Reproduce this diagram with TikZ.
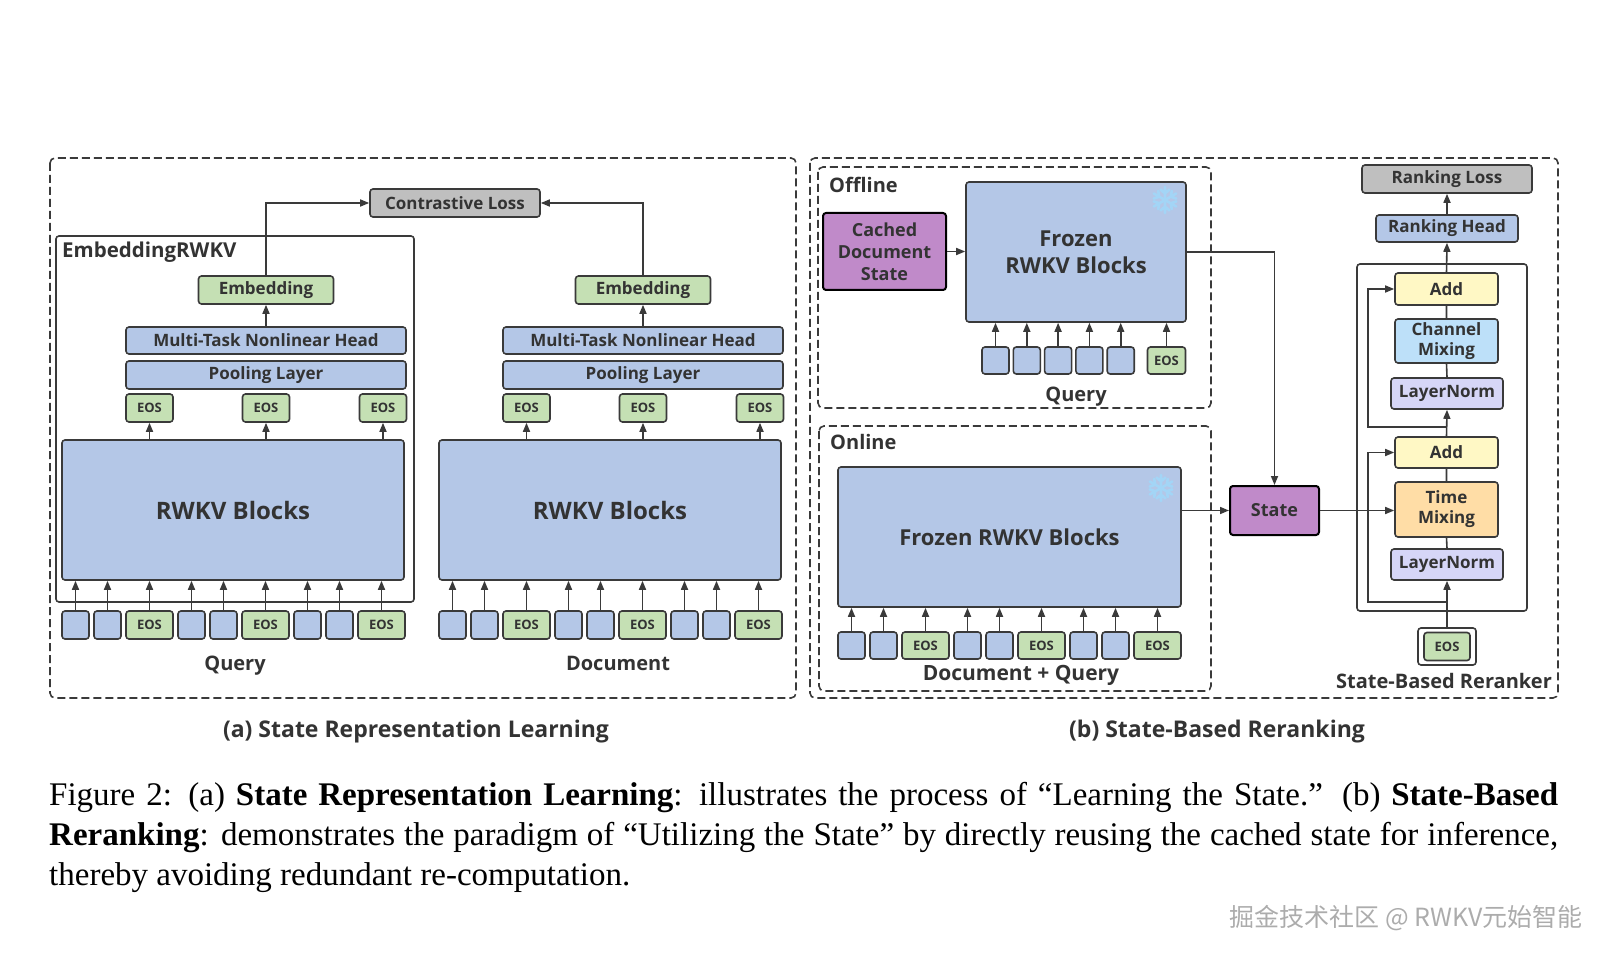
\documentclass[tikz,border=0pt]{standalone}
\usepackage{fontspec}
\setmainfont{Liberation Serif}
\newfontfamily\dg{Open Sans}
\newfontfamily\cjk{Noto Sans CJK SC}
\usetikzlibrary{arrows.meta}

\definecolor{blk}{HTML}{B4C7E7}
\definecolor{grn}{HTML}{C5E0B4}
\definecolor{gry}{HTML}{BFBFBF}
\definecolor{pur}{HTML}{C08AC9}
\definecolor{yel}{HTML}{FFF8C5}
\definecolor{sky}{HTML}{BDE0F9}
\definecolor{org}{HTML}{FFDDA6}
\definecolor{lav}{HTML}{D6D6F7}
\definecolor{linec}{HTML}{3A3A3A}
\definecolor{textc}{HTML}{333333}
\definecolor{ice}{HTML}{A3D5F6}

\newcommand\dgf[2]{\dg\bfseries\fontsize{#1}{#2}\selectfont}

\tikzset{blockbox/.style = {draw=linec, line width=1.6pt, rounded corners=3pt, fill=#1,
                            text=textc, align=center, inner sep=0pt, font=\dgf{17}{20}},
         blockbox/.default = blk,
         tokbox/.style = {blockbox=blk, minimum width=27pt, minimum height=#1},
         tokbox/.default = 28pt,
         eosbox/.style = {blockbox=grn, minimum width=47pt, minimum height=#1, font=\dgf{13}{15}},
         eosbox/.default = 28pt,
         arr/.style = {draw=linec, line width=1.6pt, -{Triangle[length=9pt,width=7pt]}},
         wire/.style = {draw=linec, line width=1.6pt},
         dashframe/.style = {draw=linec, line width=1.6pt, dash pattern=on 8pt off 4pt, rounded corners=5pt},
         lbl/.style = {text=textc, inner sep=0pt, font=\dgf{#1}{#1}},
         lbl/.default = 20,
         flake/.style = {draw=ice, line width=2.6pt, line cap=round}
        }

\begin{document}
\begin{tikzpicture}[x=1pt, y=-1pt]
  \useasboundingbox (0,0) rectangle (1609,957);

  % (a) state representation learning
  \draw[dashframe] (50,158) rectangle (796,698);
  \draw[wire, rounded corners=3pt] (56,236) rectangle (414,602);
  \node[lbl=20.5, anchor=base west] (embrwkv) at (62,258) {EmbeddingRWKV};
  \node[blockbox=gry, minimum width=170pt, minimum height=28pt] (closs) at (455,203) {Contrastive Loss};

  \foreach \c/\dx/\name/\nx in {q/0/Query/235, d/377/Document/241} {
    \begin{scope}[xshift=\dx pt]
      \node[blockbox=grn, minimum width=135pt, minimum height=28pt] (emb-\c) at (266,290) {Embedding};
      \node[blockbox, minimum width=280pt, minimum height=27pt] (mth-\c) at (266,340.5) {Multi-Task Nonlinear Head};
      \node[blockbox, minimum width=280pt, minimum height=28pt] (pool-\c) at (266,375) {Pooling Layer};
      \node[blockbox, minimum width=342pt, minimum height=140pt, font=\dgf{24}{28}] (rwkv-\c) at (233,510) {RWKV Blocks};
      \draw[arr] (mth-\c.north) -- (emb-\c.south);
      \foreach \e/\ex in {1/149.5, 2/266, 3/383} {
        \node[eosbox] (e-\c-\e) at (\ex,408) {EOS};
        \draw[arr] (e-\c-\e.south |- rwkv-\c.north) -- (e-\c-\e.south);
      }
      \foreach \g in {0,1,2} {
        \pgfmathsetmacro\xa{62+116*\g}
        \node[tokbox] (t-\c-\g-a) at (\xa+13.5,625) {};
        \node[tokbox] (t-\c-\g-b) at (\xa+45.5,625) {};
        \node[eosbox] (t-\c-\g-e) at (\xa+87.5,625) {EOS};
        \foreach \k in {a,b,e}
          \draw[arr] (t-\c-\g-\k.north) -- (t-\c-\g-\k.north |- rwkv-\c.south);
      }
      \node[lbl, anchor=base] (name-\c) at (\nx,670) {\name};
    \end{scope}
  }
  \draw[arr] (emb-q.north) |- (closs.west);
  \draw[arr] (emb-d.north) |- (closs.east);
  \node[lbl=23, anchor=base] (capa) at (416,737) {(a) State Representation Learning};

  % (b) state-based reranking
  \draw[dashframe] (810,158) rectangle (1558,698);
  \draw[dashframe] (818,167) rectangle (1211,408);
  \draw[dashframe] (819,426) rectangle (1211,691);
  \node[lbl, anchor=base west] (offline) at (829,193) {Offline};
  \node[lbl, anchor=base west] (online) at (830,449) {Online};

  \node[blockbox=pur, draw=black, line width=2pt, minimum width=123pt, minimum height=77pt,
        font=\dgf{18}{22}] (cache) at (884.5,251.5) {Cached\\Document\\State};
  \node[blockbox, minimum width=220pt, minimum height=140pt, font=\dgf{22}{27}] (froff) at (1076,252) {Frozen\\RWKV Blocks};
  \draw[arr] (cache.east) -- (froff.west |- cache.east);
  \foreach \i in {0,...,4}
    \node[tokbox=27pt] (off-\i) at (995.5+31.3*\i,360.5) {};
  \node[eosbox=27pt, minimum width=38pt] (off-e) at (1166.5,360.5) {EOS};
  \foreach \n in {off-0,off-1,off-2,off-3,off-4,off-e}
    \draw[arr] (\n.north) -- (\n.north |- froff.south);
  \node[lbl, anchor=base] (qoff) at (1076,402) {Query};

  \node[blockbox, minimum width=343pt, minimum height=140pt, font=\dgf{22}{27}] (fron) at (1009.5,537) {Frozen RWKV Blocks};
  \foreach \g in {0,1,2} {
    \pgfmathsetmacro\xa{838+116*\g}
    \node[tokbox=27pt] (on-\g-a) at (\xa+13.5,645.5) {};
    \node[tokbox=27pt] (on-\g-b) at (\xa+45.5,645.5) {};
    \node[eosbox=27pt] (on-\g-e) at (\xa+87.5,645.5) {EOS};
    \foreach \k in {a,b,e}
      \draw[arr] (on-\g-\k.north) -- (on-\g-\k.north |- fron.south);
  }
  \node[lbl=21, anchor=base] (dq) at (1021,680) {Document + Query};

  % snowflakes on the frozen blocks
  \foreach \fx/\fy in {1165/200, 1161/488}
    \foreach \a in {0,60,...,300}
      \draw[flake, shift={(\fx,\fy)}, rotate=\a] (0,0) -- (0,13) (-4.5,10.5) -- (0,6.5) -- (4.5,10.5);

  \node[blockbox=pur, draw=black, line width=2pt, minimum width=89pt, minimum height=49pt,
        font=\dgf{18}{22}] (state) at (1274.5,510.5) {State};
  \draw[arr] (froff.east) -| (state.north);
  \draw[arr] (fron.east |- state.west) -- (state.west);

  \draw[wire, rounded corners=3pt] (1357,264) rectangle (1527,611);
  \node[blockbox=gry, minimum width=170pt, minimum height=28pt] (rloss) at (1447,179) {Ranking Loss};
  \node[blockbox, minimum width=142pt, minimum height=27pt] (rhead) at (1447,228.5) {Ranking Head};
  \node[blockbox=yel, minimum width=103pt, minimum height=32pt] (addu) at (1446.5,289) {Add};
  \node[blockbox=sky, minimum width=103pt, minimum height=44pt] (cmix) at (1446.5,341) {Channel\\Mixing};
  \node[blockbox=lav, minimum width=112pt, minimum height=31pt] (lnu) at (1447,393.5) {LayerNorm};
  \node[blockbox=yel, minimum width=103pt, minimum height=31pt] (addl) at (1446.5,452.5) {Add};
  \node[blockbox=org, minimum width=103pt, minimum height=55pt] (tmix) at (1446.5,509.5) {Time\\Mixing};
  \node[blockbox=lav, minimum width=112pt, minimum height=31pt] (lnl) at (1447,564.5) {LayerNorm};
  \node[blockbox=white, minimum width=58pt, minimum height=37pt] (eosw) at (1447,646.5) {};
  \node[eosbox, minimum width=46pt] (eosr) at (eosw.center) {EOS};
  \node[lbl, anchor=base east] (reranker) at (1552,688) {State-Based Reranker};

  \draw[arr] (state.east) -- (state.east -| tmix.west);
  \draw[arr] (rhead.north) -- (rloss.south);
  \draw[arr] (addu.north) -- (rhead.south);
  \draw[wire] (lnu.north) -- (cmix.south) (cmix.north) -- (addu.south);
  \draw[arr] (addl.north) -- (lnu.south);
  \draw[wire] (lnl.north) -- (tmix.south) (tmix.north) -- (addl.south);
  \draw[arr] (eosw.north) -- (lnl.south);
  \coordinate (res-l) at (1447,602);
  \coordinate (res-u) at (1447,427);
  \draw[arr] (res-l) -- (1368,602) |- (addl.west);
  \draw[arr] (res-u) -- (1368,427) |- (addu.west);
  \node[lbl=23, anchor=base] (capb) at (1217,737) {(b) State-Based Reranking};

  % figure caption
  \node[anchor=base west, text width=1509pt, align=justify, inner sep=0pt,
        font=\fontsize{33}{40}\selectfont] (caption) at (49,805)
       {\hyphenpenalty=10000 \exhyphenpenalty=10000
        Figure 2: (a) \textbf{State Representation Learning}: illustrates the process of “Learning the State.” (b) \textbf{State-Based}\linebreak
        \textbf{Reranking}: demonstrates the paradigm of “Utilizing the State” by directly reusing the cached state for inference,\linebreak
        thereby avoiding redundant re-computation.};
  \node[font=\cjk\fontsize{25}{25}\selectfont, text=gray!65, anchor=east, inner sep=0pt] (wmark) at (1583,918) {掘金技术社区 @ RWKV元始智能};
\end{tikzpicture}
\end{document}
